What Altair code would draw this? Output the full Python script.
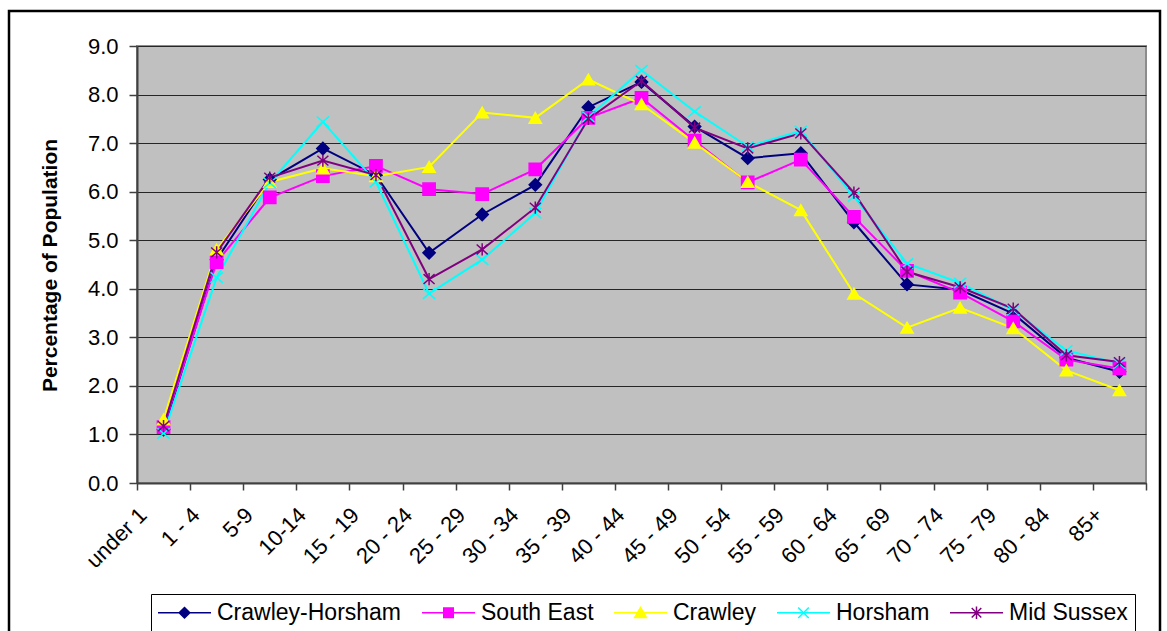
import altair as alt
import pandas as pd

# Age bands on the x axis
ages = ["under 1", "1 - 4", "5-9", "10-14", "15 - 19", "20 - 24", "25 - 29",
        "30 - 34", "35 - 39", "40 - 44", "45 - 49", "50 - 54", "55 - 59",
        "60 - 64", "65 - 69", "70 - 74", "75 - 79", "80 - 84", "85+"]

series = ["Crawley-Horsham", "South East", "Crawley", "Horsham", "Mid Sussex"]

# Percentage of population in each age band
crawley_horsham = [1.10, 4.60, 6.25, 6.89, 6.34, 4.74, 5.53, 6.14, 7.74, 8.26,
                   7.34, 6.69, 6.79, 5.37, 4.09, 3.98, 3.49, 2.58, 2.29]
south_east = [1.15, 4.55, 5.88, 6.32, 6.53, 6.05, 5.95, 6.46, 7.52, 7.93,
              7.05, 6.19, 6.66, 5.48, 4.37, 3.92, 3.33, 2.54, 2.36]
crawley = [1.31, 4.81, 6.20, 6.48, 6.32, 6.51, 7.63, 7.52, 8.31, 7.80,
           7.01, 6.20, 5.62, 3.90, 3.20, 3.61, 3.19, 2.32, 1.91]
horsham = [1.02, 4.23, 6.18, 7.44, 6.20, 3.90, 4.60, 5.56, 7.54, 8.50,
           7.65, 6.93, 7.25, 5.90, 4.52, 4.12, 3.56, 2.73, 2.46]
mid_sussex = [1.17, 4.75, 6.29, 6.64, 6.34, 4.20, 4.81, 5.67, 7.50, 8.28,
              7.32, 6.89, 7.20, 5.98, 4.35, 4.03, 3.59, 2.63, 2.49]

line_colors = ["#000080", "#FF00FF", "#FFFF00", "#00FFFF", "#800080"]
fill_colors = ["#000080", "#FF00FF", "#FFFF00", "transparent", "transparent"]

# Marker shapes for the plotted points
marker_shapes = ["diamond", "square", "triangle-up",
                 "M-1,-0.85L1,0.85M-1,0.85L1,-0.85",
                 "M-0.9,-0.8L0.9,0.8M-0.9,0.8L0.9,-0.8M0,-1L0,1"]

# Legend keys: a short line segment with the marker drawn across its middle
legend_keys = [
    "M-2.5,0L2.5,0M0,-0.5L0.5,0L0,0.5L-0.5,0Z",
    "M-2.5,0L2.5,0M-0.45,-0.45L0.45,-0.45L0.45,0.45L-0.45,0.45Z",
    "M-2.5,0L2.5,0M0,-0.5L0.55,0.45L-0.55,0.45Z",
    "M-2.5,0L2.5,0M-0.5,-0.5L0.5,0.5M-0.5,0.5L0.5,-0.5",
    "M-2.5,0L2.5,0M-0.45,-0.45L0.45,0.45M-0.45,0.45L0.45,-0.45M0,-0.6L0,0.6",
]

values = [crawley_horsham, south_east, crawley, horsham, mid_sussex]
rows = []
for name, vals in zip(series, values):
    for i, (age, v) in enumerate(zip(ages, vals)):
        rows.append({"series": name, "age": age, "order": i, "value": v})
df = pd.DataFrame(rows)

FONT = "Liberation Sans"
W, H = 1009, 437

x_enc = alt.X("age:N", sort=ages, title=None,
              scale=alt.Scale(type="band", paddingInner=0, paddingOuter=0),
              axis=alt.Axis(tickBand="extent", labelAngle=-45, labelAlign="right",
                            labelBaseline="top", labelOffset=-28, labelPadding=14,
                            tickSize=7, labelFontSize=22, labelFont=FONT,
                            labelColor="black", labelOverlap=False, grid=False,
                            domainColor="#404040", domainWidth=2,
                            tickColor="#404040", tickWidth=1.5))
y_enc = alt.Y("value:Q", title="Percentage of Population",
              scale=alt.Scale(domain=[0, 9], nice=False),
              axis=alt.Axis(values=list(range(10)), format=".1f", tickSize=8,
                            labelPadding=11, labelFontSize=22, labelFont=FONT,
                            labelColor="black", grid=True, gridColor="#262626",
                            gridWidth=1, domainColor="#404040", domainWidth=2,
                            tickColor="#404040", tickWidth=1.5,
                            titleFont=FONT, titleFontSize=21, titleFontWeight="bold",
                            titleColor="black", titleX=-77, titleY=219,
                            titleAngle=-90, titleAlign="center",
                            titleBaseline="bottom"))

lines = alt.Chart(df).mark_line(strokeWidth=2).encode(
    x=x_enc,
    y=y_enc,
    order="order:Q",
    color=alt.Color("series:N", sort=series,
                    scale=alt.Scale(domain=series, range=line_colors),
                    legend=None),
)

points = alt.Chart(df).mark_point(opacity=1, strokeWidth=1.5, size=150).encode(
    x=alt.X("age:N", sort=ages),
    y="value:Q",
    shape=alt.Shape("series:N", scale=alt.Scale(domain=series, range=marker_shapes),
                    legend=None),
    stroke=alt.Stroke("series:N", scale=alt.Scale(domain=series, range=line_colors),
                      legend=None),
    fill=alt.Fill("series:N", scale=alt.Scale(domain=series, range=fill_colors),
                  legend=None),
)

# Legend drawn from an invisible layer whose shapes are line-and-marker keys
leg = alt.Legend(
    title=None, orient="none", legendX=14, legendY=548, direction="horizontal",
    labelFont=FONT, labelFontSize=23, labelColor="black", labelLimit=400,
    symbolSize=450, symbolStrokeWidth=1.5, symbolOpacity=1, symbolOffset=15,
    labelOffset=21, columnPadding=16, padding=7, strokeColor="black",
    fillColor="white",
)
keys = alt.Chart(df).mark_point(opacity=0, strokeWidth=1.5).encode(
    x=alt.X("age:N", sort=ages),
    y="value:Q",
    shape=alt.Shape("series:N", sort=series,
                    scale=alt.Scale(domain=series, range=legend_keys), legend=leg),
    stroke=alt.Stroke("series:N", sort=series,
                      scale=alt.Scale(domain=series, range=line_colors), legend=leg),
    fill=alt.Fill("series:N", sort=series,
                  scale=alt.Scale(domain=series, range=fill_colors), legend=leg),
)

# Outer chart border
frame = alt.Chart(alt.Data(values=[{}])).mark_rect(
    fill=None, stroke="black", strokeWidth=2.5
).encode(x=alt.value(-128), x2=alt.value(1023), y=alt.value(-35), y2=alt.value(600))

chart = alt.layer(frame, lines, points, keys).resolve_scale(
    shape="independent", stroke="independent", fill="independent"
).properties(
    width=W, height=H,
    autosize=alt.AutoSizeParams(type="none"),
    padding={"left": 137, "top": 46, "right": 21, "bottom": 148},
    background="white",
).configure_view(
    fill="#C0C0C0", stroke="#8c8c8c", strokeWidth=2
).configure_legend(strokeWidth=1)

chart.save("out.html", embed_options={"renderer": "svg", "actions": False})
